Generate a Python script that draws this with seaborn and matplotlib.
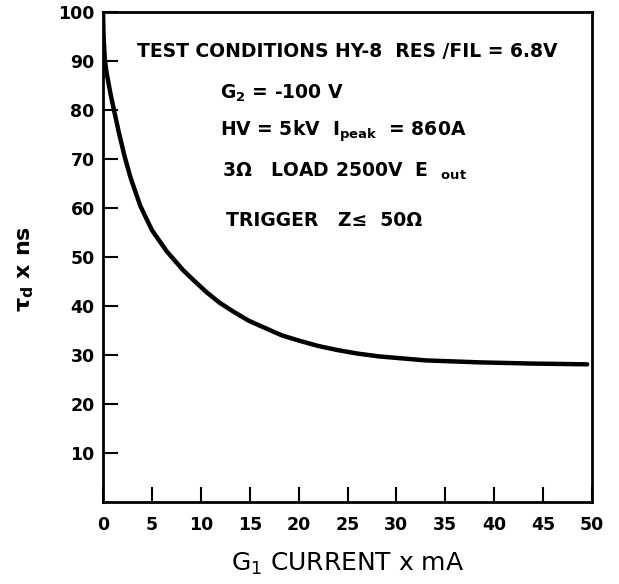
#!/usr/bin/env python3
"""Delay time vs G1 current curve (HY-8)
"""

import pandas as pd
import matplotlib
matplotlib.use("Agg")
import matplotlib.pyplot as plt
import seaborn as sns

# curve
g1_current = [0, 0.06, 0.18, 0.35, 0.75, 1.1, 1.6, 2.2, 2.8, 3.8, 5.0, 6.5,
              8.2, 9.3, 10.6, 11.9, 13.3, 14.9, 16.7, 18.3, 20.1, 22.0, 24.0,
              26.0, 28.3, 33.0, 38.5, 44.0, 49.5]
delay_ns = [100, 95, 90.5, 87.8, 83.5, 80.2, 75.6, 70.6, 66.3, 60.5, 55.5, 51.2,
            47.3, 45.2, 42.8, 40.7, 38.9, 37.0, 35.4, 34.0, 32.9, 31.85, 31.0,
            30.3, 29.7, 28.9, 28.5, 28.25, 28.1]

x_ticks = [0, 5, 10, 15, 20, 25, 30, 35, 40, 45, 50]
y_ticks = [10, 20, 30, 40, 50, 60, 70, 80, 90, 100]

notes = [
    "TEST CONDITIONS HY-8  RES /FIL = 6.8V",
    "G$_{2}$ = -100 V",
    "HV = 5kV  I$_{peak}$  = 860A",
    "3\u03a9   LOAD 2500V  E  $_{out}$",
    "TRIGGER   Z\u2264  50\u03a9",
]


def main():
    sns.set_style("white")
    plt.rcParams["font.family"] = ["DejaVu Sans"]
    plt.rcParams["mathtext.default"] = "regular"
    for key in ["text.color", "axes.labelcolor", "xtick.color", "ytick.color"]:
        plt.rcParams[key] = "black"

    df = pd.DataFrame({"current": g1_current, "delay": delay_ns})

    fig = plt.figure(figsize=(6.19, 5.84), dpi=100)
    ax = fig.add_axes([0.1664, 0.1404, 0.79, 0.839])
    sns.lineplot(x="current", y="delay", data=df, ax=ax, color="black",
                 linewidth=3.2, estimator=None, sort=True)
    ax.lines[0].set_solid_joinstyle("round")
    ax.lines[0].set_solid_capstyle("round")

    ax.set_xlim(0, 50)
    ax.set_ylim(0, 100)
    ax.set_xticks(x_ticks)
    ax.set_yticks(y_ticks)
    ax.tick_params(axis="both", direction="in", length=11, width=1.5,
                   color="black", labelsize=12.5, bottom=True, left=True)
    ax.tick_params(axis="x", pad=10)
    ax.tick_params(axis="y", pad=6)
    for lab in ax.get_xticklabels() + ax.get_yticklabels():
        lab.set_fontweight("bold")
    for sp in ax.spines.values():
        sp.set_color("black")
        sp.set_linewidth(2.0)

    ax.set_xlabel("G$_{1}$ CURRENT x mA", fontsize=18)
    ax.xaxis.set_label_coords(0.5, -0.1)
    ax.set_ylabel("\u03c4$_{d}$ x ns", fontsize=16, fontweight="bold")
    ax.yaxis.set_label_coords(-0.138, 0.476)

    note_pos = [(0.0695, 0.908), (0.239, 0.824), (0.239, 0.747),
                (0.243, 0.663), (0.252, 0.563)]
    for txt, (px, py) in zip(notes, note_pos):
        ax.text(px, py, txt, transform=ax.transAxes, fontsize=13.5,
                fontweight="bold", va="baseline", ha="left")

    fig.savefig("out.png", dpi=100)


if __name__ == '__main__':
    main()
